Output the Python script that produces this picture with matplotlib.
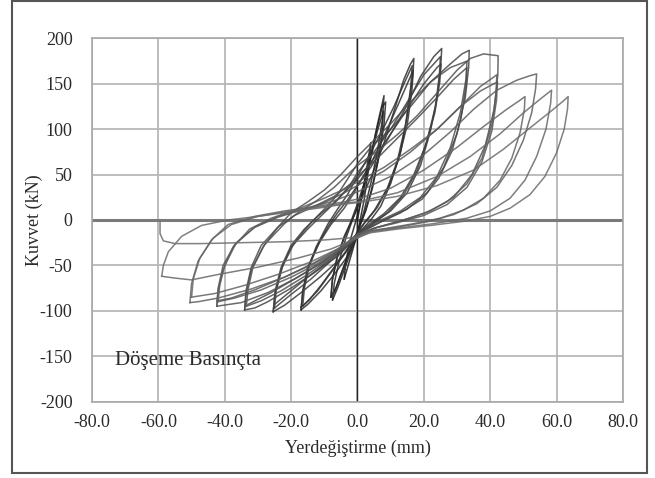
import matplotlib.pyplot as plt
from matplotlib.patches import Rectangle

# ── Hysteresis cycles: displacement [mm] / force [kN] ───────────────────────
# each cycle: reload from previous negative peak -> positive peak -> unload
c1_x = [0.0, 1.0, 2.0, 3.0, 4.0, 3.5, 2.0, 0.0, -2.0, -4.0]
c1_y = [0, 20, 40, 62, 85, 60, 22, -15, -40, -65]

c2_x = [-4.0, -3.5, -2.0, 0.0, 2.0, 4.0, 6.0, 8.0, 7.5, 6.0, 4.0, 2.0, 0.0, -2.0, -4.0, -6.0, -7.5]
c2_y = [-65, -45, -20, 5, 35, 70, 105, 137, 110, 75, 40, 10, -15, -35, -55, -75, -88]

c3_x = [-7.5, -7.0, -5.5, -3.5, -1.0, 1.0, 3.0, 5.5, 7.5, 8.5, 8.0, 6.5, 4.5, 2.5, 0.0, -2.0, -4.5, -6.5, -8.0]
c3_y = [-88, -70, -45, -20, 5, 25, 55, 95, 125, 130, 105, 70, 35, 10, -12, -30, -55, -75, -85]

c3b_x = [-8.0, -7.6, -6.2, -4.0, -2.0, 0.0, 2.0, 4.0, 6.0, 7.8, 7.4, 6.0, 4.0, 2.0, 0.0, -2.5, -5.0, -7.0]
c3b_y = [-85, -66, -42, -20, -2, 18, 40, 68, 98, 120, 96, 62, 30, 6, -14, -36, -60, -80]

c4_x = [-8.0, -7.5, -6.0, -4.0, -1.0, 2.0, 5.0, 8.0, 11.0, 14.0, 16.0, 17.0,
        16.7, 15.0, 13.0, 10.0, 7.0, 4.0, 1.0, -1.0, -3.0, -7.0, -11.0, -15.0, -17.0]
c4_y = [-85, -65, -40, -18, 5, 30, 55, 85, 120, 155, 172, 178,
        160, 115, 75, 40, 15, 0, -12, -25, -40, -60, -78, -93, -99]

c4b_x = [-17.0, -16.5, -15.0, -12.0, -9.0, -6.0, -3.0, 0.0, 4.0, 8.0, 12.0, 15.0, 16.8,
         16.4, 15.0, 12.5, 9.5, 6.0, 2.0, 0.0, -3.0, -7.0, -11.0, -14.5, -17.0]
c4b_y = [-99, -78, -52, -28, -8, 8, 22, 38, 62, 92, 125, 150, 165,
         142, 105, 68, 38, 14, -4, -15, -32, -52, -72, -88, -96]

c5_x = [-17.0, -16.5, -15.0, -12.5, -9.0, -6.0, -3.0, 0.0, 3.0, 7.0, 11.0, 14.0, 16.5,
        16.0, 14.5, 12.0, 9.0, 5.0, 1.0, -1.0, -4.0, -8.0, -12.0, -16.5]
c5_y = [-99, -80, -55, -30, -5, 12, 28, 48, 68, 95, 125, 150, 170,
        145, 105, 65, 35, 10, -8, -20, -38, -58, -78, -95]

c6_x = [-16.5, -16.0, -14.5, -11.5, -8.0, -4.0, -1.0, 0.0, 4.0, 9.0, 14.0, 19.0, 23.0, 25.4,
        25.1, 24.0, 22.0, 19.0, 15.0, 10.0, 5.0, 1.0, -1.0, -5.0, -11.0, -17.0, -22.0, -25.4]
c6_y = [-95, -75, -50, -25, -5, 13, 30, 38, 58, 88, 120, 158, 180, 189,
        170, 135, 98, 60, 30, 10, -3, -14, -24, -42, -62, -80, -94, -101]

c6b_x = [-25.4, -24.8, -23.0, -20.0, -16.0, -12.0, -8.0, -4.0, 0.0, 5.0, 10.0, 15.0, 20.0, 24.0, 25.2,
         24.8, 23.3, 20.5, 17.0, 13.0, 8.0, 3.0, 0.0, -4.0, -9.0, -15.0, -20.0, -25.0]
c6b_y = [-101, -78, -52, -28, -10, 4, 16, 30, 45, 68, 95, 122, 150, 168, 172,
         152, 118, 82, 50, 25, 7, -6, -15, -30, -46, -63, -78, -93]

c7_x = [-25.4, -24.8, -23.0, -20.0, -15.0, -10.0, -6.0, -2.0, 0.0, 5.0, 10.0, 15.0, 20.0, 25.0,
        24.7, 23.5, 21.0, 18.0, 14.0, 9.0, 4.0, 0.0, -3.0, -8.0, -14.0, -20.0, -25.0]
c7_y = [-101, -80, -55, -30, -10, 8, 22, 40, 52, 75, 100, 130, 160, 180,
        160, 125, 88, 55, 28, 8, -5, -16, -28, -45, -65, -82, -97]

c8_x = [-25.0, -24.5, -22.5, -19.0, -14.0, -10.0, -6.0, -3.0, 0.0, 4.0, 10.0, 16.0, 22.0, 28.0, 31.5, 33.7,
        33.5, 32.5, 30.0, 26.0, 21.0, 15.0, 8.0, 2.0, -1.0, -6.0, -13.0, -20.0, -27.0, -31.0, -34.0]
c8_y = [-97, -78, -50, -25, -3, 12, 28, 45, 62, 80, 100, 125, 152, 172, 183, 187,
        168, 135, 95, 58, 30, 12, 0, -12, -22, -40, -58, -75, -90, -97, -99]

c8b_x = [-34.0, -33.6, -32.0, -29.0, -24.0, -19.0, -13.0, -7.0, -2.0, 0.0, 6.0, 12.0, 18.0, 24.0, 29.0, 33.0,
         32.7, 31.2, 28.5, 24.5, 19.5, 13.0, 6.0, 0.0, -4.0, -10.0, -18.0, -26.0, -33.0]
c8b_y = [-99, -78, -52, -28, -8, 5, 15, 26, 40, 48, 68, 90, 112, 135, 155, 168,
         148, 112, 76, 46, 23, 8, -4, -15, -28, -45, -63, -80, -93]

c9_x = [-34.0, -33.5, -32.0, -28.5, -24.0, -20.0, -15.0, -10.0, -5.0, 0.0, 5.0, 10.0, 16.0, 22.0, 28.0, 33.0,
        32.7, 31.0, 28.0, 24.0, 19.0, 13.0, 6.0, 1.0, -2.0, -8.0, -15.0, -23.0, -29.0, -33.5]
c9_y = [-99, -80, -55, -30, -8, 8, 20, 33, 50, 70, 88, 106, 130, 152, 168, 175,
        155, 118, 80, 48, 25, 10, -2, -14, -25, -42, -60, -78, -89, -95]

c10_x = [-33.5, -33.0, -31.5, -28.0, -22.0, -18.0, -12.0, -7.0, -3.0, 0.0, 6.0, 12.0, 18.0, 24.0, 30.0, 34.0, 38.0, 42.4,
         42.3, 41.2, 38.5, 34.5, 29.0, 22.0, 14.0, 6.0, 0.0, -4.0, -11.0, -19.0, -27.0, -35.0, -42.4]
c10_y = [-95, -77, -52, -27, -4, 8, 22, 36, 50, 60, 76, 94, 115, 140, 165, 178, 183, 181,
         160, 122, 82, 50, 25, 10, 0, -8, -17, -30, -48, -65, -80, -91, -95]

c10b_x = [-42.4, -42.0, -40.5, -37.0, -31.0, -24.0, -17.0, -10.0, -4.0, 0.0, 8.0, 16.0, 24.0, 31.0, 37.0, 41.0, 42.2,
          41.9, 40.5, 37.5, 33.0, 27.0, 20.0, 12.0, 5.0, 0.0, -5.0, -13.0, -22.0, -31.0, -38.0, -42.2]
c10b_y = [-95, -75, -50, -27, -8, 3, 11, 19, 30, 38, 54, 75, 100, 125, 142, 150, 152,
          132, 98, 64, 36, 17, 5, -3, -9, -16, -30, -47, -63, -77, -86, -89]

c11_x = [-42.4, -42.0, -40.5, -37.5, -32.5, -26.0, -18.0, -10.0, -4.0, 0.0, 8.0, 16.0, 24.0, 31.0, 37.0, 40.5, 42.0,
         41.8, 40.5, 37.5, 33.0, 27.0, 20.0, 12.0, 5.0, 0.0, -5.0, -12.0, -20.0, -29.0, -37.0, -42.0]
c11_y = [-95, -78, -55, -30, -10, 2, 12, 24, 34, 42, 58, 78, 100, 125, 147, 156, 160,
         140, 105, 68, 40, 20, 7, -2, -9, -17, -32, -48, -63, -77, -86, -90]

c12_x = [-42.0, -41.5, -40.0, -36.5, -31.0, -24.0, -16.0, -8.0, -2.0, 0.0, 10.0, 20.0, 28.0, 35.0, 42.0, 48.0, 52.0, 54.0,
         53.7, 52.5, 50.0, 46.5, 42.0, 36.0, 29.0, 21.0, 12.0, 4.0, 0.0, -5.0, -13.0, -22.0, -32.0, -42.0, -48.0, -50.5]
c12_y = [-90, -72, -50, -25, -8, 4, 12, 20, 28, 31, 48, 72, 97, 122, 143, 154, 159, 161,
         145, 118, 88, 60, 36, 18, 6, -2, -8, -12, -18, -32, -48, -63, -76, -86, -90, -91]

c13_x = [-50.5, -50.0, -48.0, -44.0, -39.0, -31.0, -22.0, -12.0, -4.0, 0.0, 10.0, 20.0, 30.0, 38.0, 45.0, 49.0, 50.5,
         50.3, 49.0, 46.5, 43.0, 38.0, 32.0, 25.0, 17.0, 9.0, 2.0, 0.0, -6.0, -14.0, -24.0, -34.0, -43.0, -50.0]
c13_y = [-91, -70, -45, -22, -5, 4, 10, 15, 20, 23, 35, 55, 80, 103, 122, 132, 136,
         122, 96, 68, 44, 24, 11, 2, -4, -9, -13, -18, -32, -46, -60, -72, -81, -85]

c14_x = [-50.0, -49.5, -47.5, -43.5, -38.0, -30.0, -20.0, -10.0, -3.0, 0.0, 12.0, 24.0, 34.0, 43.0, 50.0, 55.0, 58.5,
         58.2, 56.8, 54.0, 50.5, 46.0, 40.0, 33.0, 23.0, 12.0, 4.0, 0.0, -8.0, -18.0, -30.0, -42.0, -50.0, -55.0, -59.0]
c14_y = [-85, -65, -42, -20, -5, 4, 10, 15, 19, 20, 30, 48, 70, 95, 118, 133, 143,
         128, 100, 70, 44, 24, 10, 2, -4, -9, -13, -20, -32, -42, -52, -60, -66, -64, -62]

c15_x = [-59.0, -58.5, -57.0, -53.0, -47.0, -39.0, -30.0, -20.0, -10.0, -3.0, 0.0, 12.0, 24.0, 35.0, 44.0, 51.5, 58.7, 62.0, 63.5,
         63.3, 62.3, 60.0, 56.5, 52.0, 46.0, 40.0, 33.0, 22.0, 12.0, 4.0, 0.0, -10.0, -22.0, -35.0, -47.0, -55.0, -58.5, -59.5, -59.5]
c15_y = [-62, -50, -35, -18, -6, 0, 4, 9, 14, 18, 19, 26, 38, 55, 78, 100, 121, 131, 136,
         122, 100, 74, 48, 28, 13, 4, -1, -6, -10, -14, -19, -22, -24, -25, -26, -26, -23, -15, -3]

cycles = [(c1_x, c1_y), (c2_x, c2_y), (c3_x, c3_y), (c3b_x, c3b_y), (c4_x, c4_y),
          (c4b_x, c4b_y), (c5_x, c5_y), (c6_x, c6_y), (c6b_x, c6b_y), (c7_x, c7_y),
          (c8_x, c8_y), (c8b_x, c8b_y), (c9_x, c9_y), (c10_x, c10_y), (c10b_x, c10b_y),
          (c11_x, c11_y), (c12_x, c12_y), (c13_x, c13_y), (c14_x, c14_y), (c15_x, c15_y)]

x_ticks = [-80, -60, -40, -20, 0, 20, 40, 60, 80]
y_ticks = [-200, -150, -100, -50, 0, 50, 100, 150, 200]

plt.rcParams["font.family"] = "Liberation Serif"

fig = plt.figure(figsize=(6.55, 4.78), dpi=100)
ax = fig.add_axes([0.1405, 0.160, 0.8105, 0.7595])

# grid + axis cross
for xv in x_ticks:
    ax.axvline(xv, color="#b8b8b8", lw=1.3, zorder=0)
for yv in y_ticks:
    ax.axhline(yv, color="#b8b8b8", lw=1.3, zorder=0)
ax.axhline(0, color="#7a7a7a", lw=2.2, zorder=1)
ax.axvline(0, color="#222222", lw=1.0, zorder=1)

# loops – early ones darker
n = len(cycles)
for k, (xs, ys) in enumerate(cycles):
    shade = 0.10 + 0.32 * k / (n - 1)
    ax.plot(xs, ys, color=(shade, shade, shade), lw=1.1, alpha=0.85, zorder=2)

ax.set_xlim(-80, 80)
ax.set_ylim(-200, 200)
ax.set_xticks(x_ticks)
ax.set_yticks(y_ticks)
ax.set_xticklabels([f"{v:.1f}" for v in x_ticks])
ax.set_yticklabels([str(v) for v in y_ticks])
ax.tick_params(length=0, labelsize=13, labelcolor="#2a2a2a")
ax.tick_params(axis="y", pad=14)
ax.tick_params(axis="x", pad=9)
for s in ax.spines.values():
    s.set_color("#a8a8a8")
    s.set_linewidth(1.2)

ax.set_xlabel("Yerdeğiştirme (mm)", fontsize=13, color="#2a2a2a")
ax.set_ylabel("Kuvvet (kN)", fontsize=13, color="#2a2a2a")
ax.xaxis.set_label_coords(0.5, -0.105)
ax.yaxis.set_label_coords(-0.092, 0.5)

ax.text(-73, -155, "Döşeme Basınçta", fontsize=15, color="#2a2a2a", va="center", ha="left")

# outer frame
fig.patches.append(Rectangle((0.018, 0.010), 0.970, 0.987, transform=fig.transFigure,
                             fill=False, edgecolor="#555555", lw=1.5))

fig.savefig("out.png", dpi=100)
